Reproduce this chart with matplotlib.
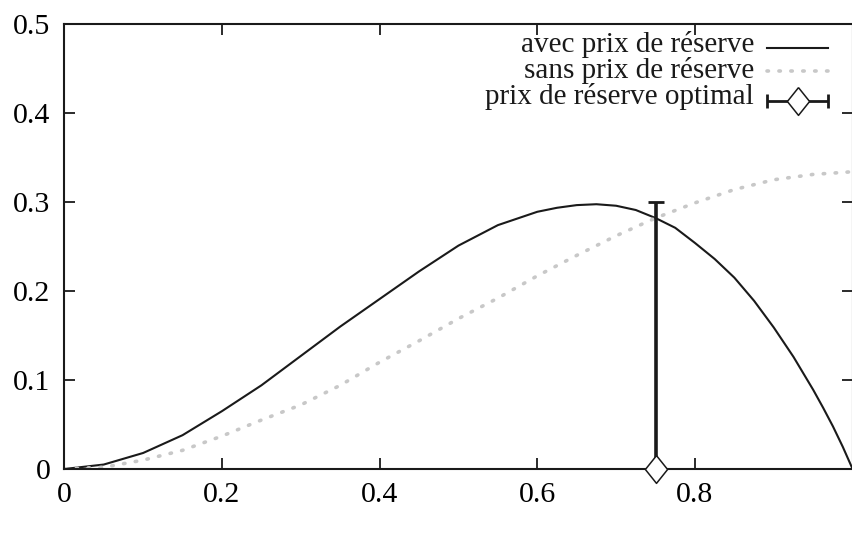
import matplotlib
matplotlib.use("Agg")
import matplotlib.pyplot as plt

# ---- data ----
avec_x = [0.0, 0.05, 0.10, 0.15, 0.20, 0.25, 0.30, 0.35, 0.40, 0.45, 0.50, 0.55,
          0.60, 0.625, 0.65, 0.675, 0.70, 0.725, 0.75, 0.775, 0.80, 0.825, 0.85,
          0.875, 0.90, 0.925, 0.95, 0.9625, 0.975, 0.9875, 1.0]
avec_y = [0.0, 0.005, 0.018, 0.038, 0.065, 0.094, 0.127, 0.160, 0.191, 0.222, 0.251, 0.274,
          0.289, 0.2935, 0.2965, 0.2975, 0.2958, 0.291, 0.282, 0.271, 0.254, 0.236, 0.215,
          0.189, 0.159, 0.126, 0.089, 0.069, 0.048, 0.025, 0.0]

sans_x = [0.0, 0.05, 0.10, 0.15, 0.20, 0.25, 0.30, 0.35, 0.40, 0.45, 0.50, 0.55,
          0.60, 0.65, 0.70, 0.75, 0.80, 0.85, 0.90, 0.95, 1.0]
sans_y = [0.0, 0.002, 0.010, 0.021, 0.037, 0.055, 0.072, 0.094, 0.120, 0.144, 0.169, 0.192,
          0.217, 0.240, 0.262, 0.282, 0.299, 0.314, 0.325, 0.331, 0.334]

opt_x = [0.75]
opt_y = [0.0]
opt_err = [0.30]

labels = ["avec prix de réserve", "sans prix de réserve", "prix de réserve optimal"]
xticks = [0, 0.2, 0.4, 0.6, 0.8]
xticklabels = ["0", "0.2", "0.4", "0.6", "0.8"]
yticks = [0, 0.1, 0.2, 0.3, 0.4, 0.5]
yticklabels = ["0", "0.1", "0.2", "0.3", "0.4", "0.5"]

plt.rcParams['font.family'] = ['Liberation Serif', 'DejaVu Serif']
FS = 21.5
KFS = 21
INK = '#1a1a1a'
GREY = '#c8c8c8'
DOTS = (0, (0.4, 2.9))
DIAMOND = [(0, 1), (0.8, 0), (0, -1), (-0.8, 0), (0, 1)]
DMS = 20

fig = plt.figure(figsize=(8.52, 5.35), dpi=100)
ax = fig.add_axes([64.3 / 852, 66 / 535, 788.3 / 852, 445 / 535])

ax.plot(avec_x, avec_y, color=INK, lw=1.5, solid_joinstyle='round')
ax.plot(sans_x, sans_y, color=GREY, lw=2.6, linestyle=DOTS, dash_capstyle='round')
ax.errorbar(opt_x, opt_y, yerr=[[0], opt_err], fmt='none', ecolor=INK,
            elinewidth=2.6, capsize=6, capthick=2.0)
ax.plot(opt_x, opt_y, linestyle='none', marker=DIAMOND, markersize=DMS,
        mfc='white', mec=INK, mew=1.1, clip_on=False, zorder=5)

ax.set_xlim(0, 1)
ax.set_ylim(0, 0.5)
ax.set_xticks(xticks)
ax.set_xticklabels(xticklabels)
ax.set_yticks(yticks)
ax.set_yticklabels(yticklabels)
ax.tick_params(direction='in', length=8, width=1.3, top=True, right=True,
               labelsize=FS, color=INK)
ax.tick_params(axis='x', pad=9)
ax.tick_params(axis='y', pad=10)
for s in ax.spines.values():
    s.set_linewidth(1.5)
    s.set_color(INK)

# gnuplot-style key (text right-aligned, sample to the right)
tr = ax.transAxes
def ax_xy(px, py):
    return ((px - 64.3) / 788.3, (469 - py) / 445)

text_py = [45, 70, 96]
sample_py = [48, 71, 101]
tx, _ = ax_xy(754, 0)
s0, _ = ax_xy(767, 0)
s1, _ = ax_xy(828, 0)
for lab, py in zip(labels, text_py):
    _, yy = ax_xy(0, py)
    ax.text(tx, yy, lab, transform=tr, ha='right', va='center', fontsize=KFS,
            color=INK)
_, y0 = ax_xy(0, sample_py[0])
ax.plot([s0, s1], [y0, y0], transform=tr, color=INK, lw=1.5)
_, y1 = ax_xy(0, sample_py[1])
ax.plot([s0, s1], [y1, y1], transform=tr, color=GREY, lw=2.6,
        linestyle=DOTS, dash_capstyle='round')
_, y2 = ax_xy(0, sample_py[2])
ax.errorbar([(s0 + s1) / 2], [y2], xerr=[[(s1 - s0) / 2], [(s1 - s0) / 2]],
            transform=tr, fmt='none', ecolor=INK, elinewidth=2.0,
            capsize=5, capthick=2.0)
ax.plot([(s0 + s1) / 2], [y2], transform=tr, linestyle='none', marker=DIAMOND,
        markersize=DMS, mfc='white', mec=INK, mew=1.1)

fig.savefig("out.png", dpi=100)
